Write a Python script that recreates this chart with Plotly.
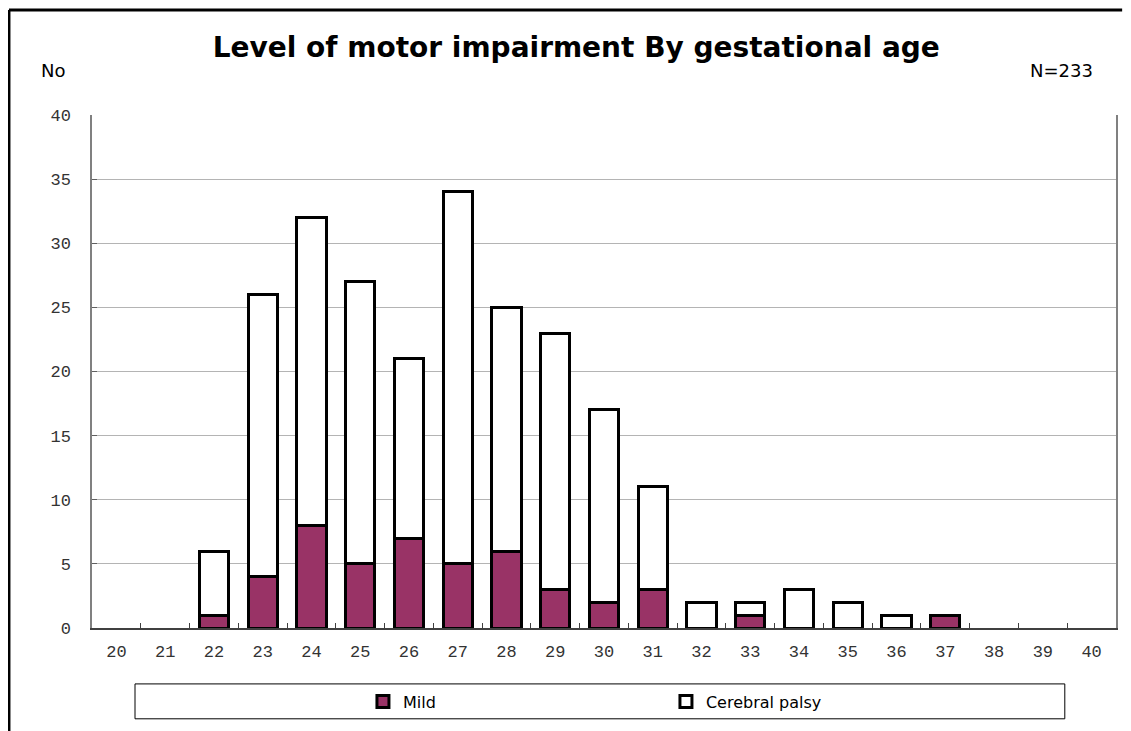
import plotly.graph_objects as go

# semanas de gestação e contagens por nível
weeks = [str(w) for w in range(20, 41)]
mild = [0, 0, 1, 4, 8, 5, 7, 5, 6, 3, 2, 3, 0, 1, 0, 0, 0, 1, 0, 0, 0]
cerebral_palsy = [0, 0, 5, 22, 24, 22, 14, 29, 19, 20, 15, 8, 2, 1, 3, 2, 1, 0, 0, 0, 0]
y_ticks = [0, 5, 10, 15, 20, 25, 30, 35, 40]


def sem_zero(vals):
    # barras de altura zero não devem desenhar contorno
    return [v if v else None for v in vals]


fig = go.Figure()
fig.add_trace(go.Bar(x=weeks, y=sem_zero(mild), name="Mild",
                     marker=dict(color="#993366", line=dict(color="black", width=3))))
fig.add_trace(go.Bar(x=weeks, y=sem_zero(cerebral_palsy), name="Cerebral palsy",
                     marker=dict(color="white", line=dict(color="black", width=3))))

fig.update_layout(
    barmode="stack",
    bargap=0.4,
    width=1123, height=723,
    margin=dict(l=84, r=15, t=107, b=103),
    paper_bgcolor="white", plot_bgcolor="white",
    font=dict(family="DejaVu Sans", size=16, color="black"),
    title=dict(text="<b>Level of motor impairment By gestational age</b>",
               x=0.506, xanchor="center", y=0.946, yanchor="middle",
               font=dict(family="DejaVu Sans", size=28, color="black")),
    showlegend=True,
    legend=dict(orientation="h", x=0.2646, xanchor="left", y=-0.1433, yanchor="middle",
                entrywidth=258, entrywidthmode="pixels", bgcolor="rgba(0,0,0,0)",
                font=dict(family="DejaVu Sans", size=16), traceorder="normal"),
)

fig.update_xaxes(type="category", tickson="boundaries", ticks="inside", ticklen=5,
                 tickcolor="#404040", showline=True, linecolor="#404040", linewidth=2,
                 mirror=False, showgrid=False, ticklabelstandoff=7,
                 tickfont=dict(family="Liberation Mono", size=17, color="#333333"))
fig.update_yaxes(range=[0, 40], tickvals=y_ticks, ticks="inside", ticklen=5,
                 tickcolor="#606060", showline=True, linecolor="#808080", linewidth=1.5,
                 mirror=True, showgrid=True, gridcolor="#b4b4b4", gridwidth=1,
                 zeroline=False, ticklabelstandoff=16,
                 tickfont=dict(family="Liberation Mono", size=17, color="#333333"))

# caixa da legenda
fig.add_shape(type="rect", xref="paper", yref="paper", x0=0.042, x1=0.950,
              y0=-0.177, y1=-0.109, line=dict(color="black", width=1))
# moldura externa (topo e esquerda)
fig.add_shape(type="line", xref="paper", yref="paper", x0=-0.0811, x1=1.006,
              y0=1.2047, y1=1.2047, line=dict(color="black", width=3))
fig.add_shape(type="line", xref="paper", yref="paper", x0=-0.0811, x1=-0.0811,
              y0=1.2047, y1=-0.22, line=dict(color="black", width=3))

fig.add_annotation(text="No", xref="paper", yref="paper", x=-0.0376, y=1.0867,
                   xanchor="center", yanchor="middle", showarrow=False,
                   font=dict(family="DejaVu Sans", size=18))
fig.add_annotation(text="N=233", xref="paper", yref="paper", x=0.9795, y=1.0867,
                   xanchor="right", yanchor="middle", showarrow=False,
                   font=dict(family="DejaVu Sans", size=18))

fig.write_html("out.html")
